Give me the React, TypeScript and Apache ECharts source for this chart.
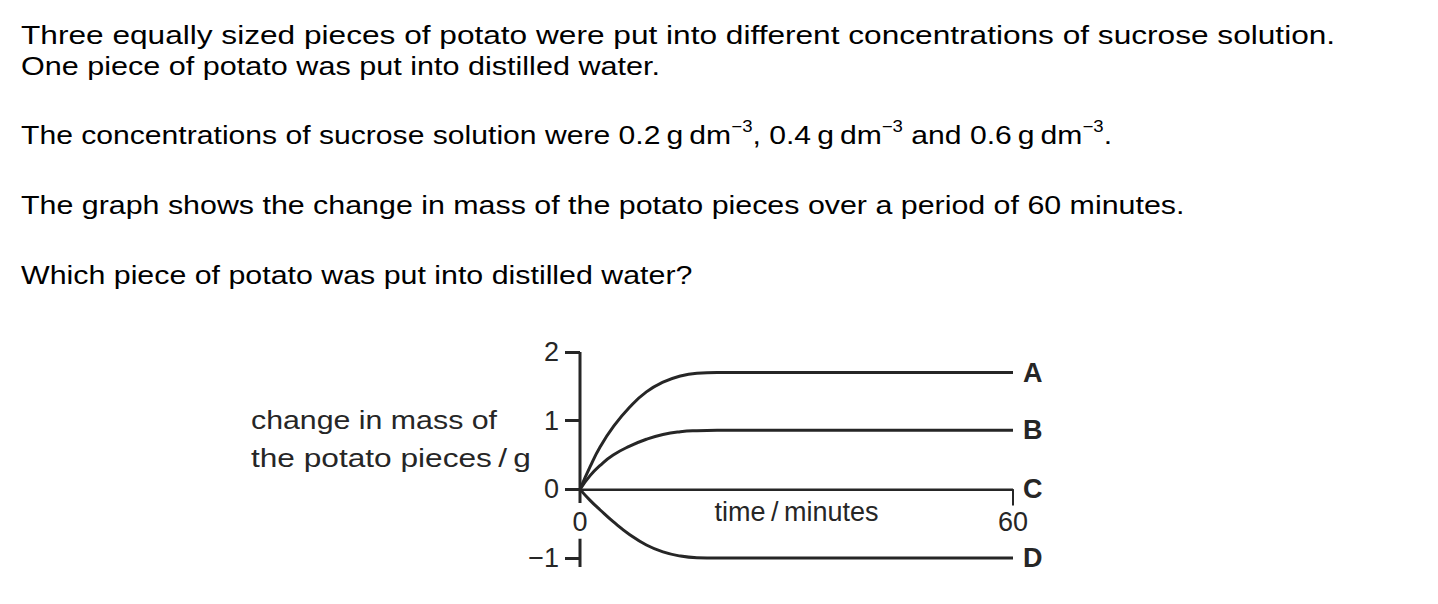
import React, { useEffect, useRef } from 'react';
import * as echarts from 'echarts';

// ---- data ----
const minutes = [0, 1.4, 2.8, 4.6, 6.9, 9.2, 11.5, 13.9, 16.2, 19, 60];
const massA = [0, 0.33, 0.62, 0.91, 1.2, 1.42, 1.56, 1.65, 1.69, 1.7, 1.7];
const massB = [0, 0.2, 0.35, 0.5, 0.63, 0.73, 0.8, 0.84, 0.855, 0.86, 0.86];
const massC = [0, 0, 0, 0, 0, 0, 0, 0, 0, 0, 0];
const massD = [0, -0.16, -0.3, -0.47, -0.66, -0.81, -0.91, -0.97, -0.995, -1.0, -1.0];
const seriesNames = ['A', 'B', 'C', 'D'];
const yTickValues = [-1, 0, 1, 2];
const xTickValues = [60];
const xLabelValues = [0, 60];
const yMin = -1.13;
const yMax = 2;
// y-axis line is broken where the "0" of the time axis sits
const yAxisSegments = [
  [2, -0.2],
  [-0.72, -1.13],
];

const questionLines = [
  'Three equally sized pieces of potato were put into different concentrations of sucrose solution.',
  'One piece of potato was put into distilled water.',
  'The graph shows the change in mass of the potato pieces over a period of 60 minutes.',
  'Which piece of potato was put into distilled water?',
];
const concentrationParts = [
  { t: 'The concentrations of sucrose solution were 0.2\u2009g\u2009dm', sup: false },
  { t: '\u22123', sup: true },
  { t: ', 0.4\u2009g\u2009dm', sup: false },
  { t: '\u22123', sup: true },
  { t: ' and 0.6\u2009g\u2009dm', sup: false },
  { t: '\u22123', sup: true },
  { t: '.', sup: false },
];
const yNameLines = ['change in mass of', 'the potato pieces\u2009/\u2009g'];

const FONT = '"Liberation Sans", Arial, Helvetica, sans-serif';
const INK = '#262626';

function measure(s: string, size: number, weight = 'normal') {
  const c = document.createElement('canvas').getContext('2d')!;
  c.font = `${weight} ${size}px "Liberation Sans", Arial, sans-serif`;
  return c.measureText(s).width;
}

function pairs(ys: number[]) {
  return minutes.map((t, i) => [t, ys[i]]);
}

export default function App() {
  const ref = useRef<HTMLDivElement>(null);

  useEffect(() => {
    document.body.style.margin = '0';
    const chart = echarts.init(ref.current!, undefined, { renderer: 'svg' });

    const MAIN = 26;
    const SUP = 16;
    const mainText = (text: string, x: number, y: number, target: number) => ({
      type: 'text',
      x,
      y,
      scaleX: target / measure(text, MAIN),
      style: { text, fill: '#000', font: `${MAIN}px ${FONT}`, verticalAlign: 'middle', align: 'left' },
    });

    // line with superscripts
    let off = 0;
    const partEls = concentrationParts.map((p) => {
      const size = p.sup ? SUP : MAIN;
      const el = {
        type: 'text',
        x: off,
        y: p.sup ? -9 : 0,
        style: { text: p.t, fill: '#000', font: `${size}px ${FONT}`, verticalAlign: 'middle', align: 'left' },
      };
      off += measure(p.t, size);
      return el;
    });

    const yNameEls = yNameLines.map((l, i) => ({
      type: 'text',
      x: 251,
      y: i === 0 ? 420 : 458,
      scaleX: (i === 0 ? 246 : 280) / measure(l, 26),
      style: { text: l, fill: INK, font: `26px ${FONT}`, verticalAlign: 'middle', align: 'left' },
    }));

    const curveSeries = [massA, massB, massC, massD].map((ys, i) => ({
      name: seriesNames[i],
      type: 'line',
      data: pairs(ys),
      symbol: 'none',
      smooth: i === 2 ? false : 0.5,
      silent: true,
      lineStyle: { color: INK, width: i === 2 ? 2 : 3 },
      endLabel: {
        show: true,
        formatter: '{a}',
        distance: 10,
        color: INK,
        fontSize: 27,
        fontWeight: 'bold',
        fontFamily: FONT,
      },
      z: 3,
    }));

    const axisSeries = yAxisSegments.map((seg, i) => ({
      name: 'y-axis-' + i,
      type: 'line',
      data: [
        [0, seg[0]],
        [0, seg[1]],
      ],
      symbol: 'none',
      silent: true,
      lineStyle: { color: INK, width: 3 },
      z: 2,
    }));

    const gridHeight = 215;
    // put the time axis on the zero line of the mass axis
    const xOffset = -gridHeight * (0 - yMin) / (yMax - yMin);

    chart.setOption({
      animation: false,
      backgroundColor: '#fff',
      grid: { left: 580, top: 352, width: 433, height: gridHeight, outerBoundsMode: 'none' },
      xAxis: {
        type: 'value',
        min: 0,
        max: 60,
        offset: xOffset,
        splitLine: { show: false },
        axisLine: { show: true, onZero: false, lineStyle: { color: INK, width: 2 } },
        axisTick: { show: true, customValues: xTickValues, length: 16, lineStyle: { color: INK, width: 2 } },
        axisLabel: { customValues: xLabelValues, margin: 19, fontSize: 27, color: INK, fontFamily: FONT },
        name: 'time\u2009/\u2009minutes',
        nameLocation: 'middle',
        nameGap: 9,
        nameMoveOverlap: false,
        nameTextStyle: { fontSize: 27, color: INK, fontFamily: FONT, verticalAlign: 'top' },
      },
      yAxis: {
        type: 'value',
        min: yMin,
        max: yMax,
        splitLine: { show: false },
        axisLine: { show: false },
        axisTick: { show: true, customValues: yTickValues, length: 15, lineStyle: { color: INK, width: 3 } },
        axisLabel: {
          customValues: yTickValues,
          margin: 21,
          fontSize: 27,
          color: INK,
          fontFamily: FONT,
          formatter: (v: number) => (v < 0 ? '\u2212' + Math.abs(v) : String(v)),
        },
      },
      series: [...axisSeries, ...curveSeries],
      graphic: [
        mainText(questionLines[0], 21, 35, 1315),
        mainText(questionLines[1], 21, 66, 639),
        {
          type: 'group',
          x: 21,
          y: 135,
          scaleX: 1091 / off,
          children: partEls,
        },
        mainText(questionLines[2], 21, 205, 1164),
        mainText(questionLines[3], 21, 275, 672),
        ...yNameEls,
      ],
    });

    return () => chart.dispose();
  }, []);

  return <div ref={ref} style={{ position: 'fixed', left: 0, top: 0, width: 1438, height: 604 }} />;
}
